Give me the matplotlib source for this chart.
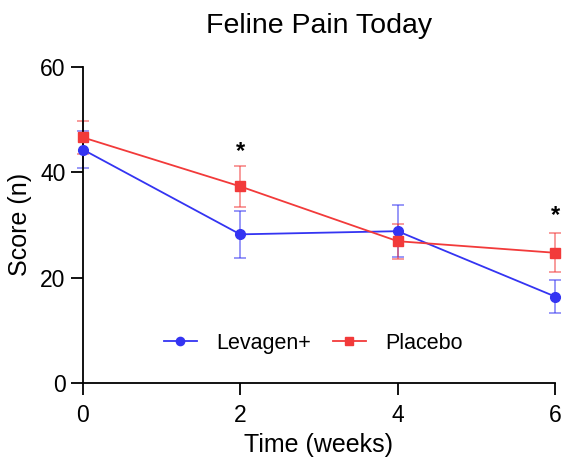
import numpy as np
import matplotlib.pyplot as plt

plt.rcParams['font.family'] = ['Liberation Sans', 'DejaVu Sans']

weeks = [0, 2, 4, 6]
levagen = [44.3, 28.2, 28.8, 16.4]
levagen_err = [3.6, 4.5, 4.9, 3.1]
placebo = [46.6, 37.3, 26.9, 24.7]
placebo_err = [3.1, 3.9, 3.3, 3.7]
star_weeks = [2, 6]
star_heights = [44.0, 31.8]

BLUE = '#3434f2'
RED = '#f23a3a'

fig = plt.figure(figsize=(5.67, 4.67), dpi=100)
ax = fig.add_axes([0.146, 0.18, 0.833, 0.677])

ax.errorbar(weeks, levagen, yerr=levagen_err, fmt='none', ecolor=BLUE, alpha=0.55,
            elinewidth=1.3, capsize=4.5, capthick=1.3, clip_on=False)
ax.errorbar(weeks, placebo, yerr=placebo_err, fmt='none', ecolor=RED, alpha=0.55,
            elinewidth=1.3, capsize=4.5, capthick=1.3, clip_on=False)
ax.plot(weeks, levagen, color=BLUE, marker='o', markersize=7, linewidth=1.3,
        label='Levagen+', clip_on=False, zorder=3)
ax.plot(weeks, placebo, color=RED, marker='s', markersize=6.5, linewidth=1.3,
        label='Placebo', clip_on=False, zorder=3)

for w, h in zip(star_weeks, star_heights):
    ax.text(w, h, '*', ha='center', va='center', fontsize=17, fontweight='bold',
            clip_on=False)

ax.set_xlim(0, 6)
ax.set_ylim(0, 60)
ax.set_xticks([0, 2, 4, 6])
ax.set_yticks([0, 20, 40, 60])
ax.spines['top'].set_visible(False)
ax.spines['right'].set_visible(False)
ax.spines['left'].set_linewidth(1.3)
ax.spines['bottom'].set_linewidth(1.3)
ax.tick_params(axis='both', labelsize=16.5, width=1.3, length=8.5, direction='out')
ax.tick_params(axis='x', pad=7)
ax.tick_params(axis='y', pad=4)
ax.set_xlabel('Time (weeks)', fontsize=18, labelpad=4)
ax.set_ylabel('Score (n)', fontsize=18, labelpad=6)
ax.set_title('Feline Pain Today', fontsize=20.5, pad=24)

ax.legend(loc='center', bbox_to_anchor=(0.488, 0.126), ncol=2, frameon=False,
          fontsize=15.5, columnspacing=1.0, handlelength=1.55, handletextpad=0.9,
          markerscale=0.85)

plt.savefig('out.png', dpi=100)
